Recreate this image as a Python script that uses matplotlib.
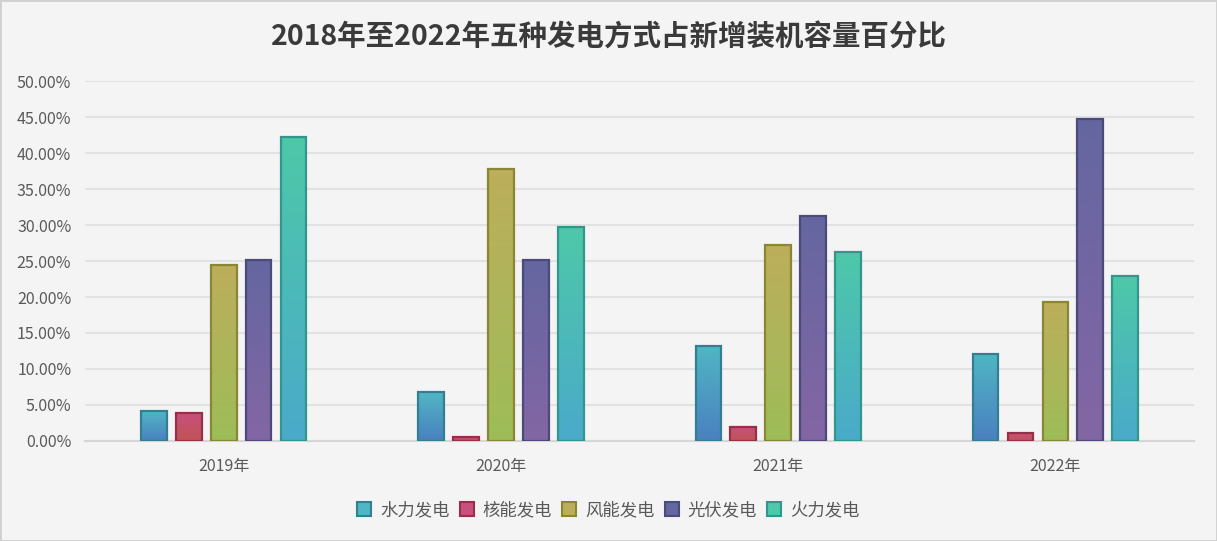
import numpy as np
import matplotlib
matplotlib.use('Agg')
import matplotlib.pyplot as plt
from matplotlib.colors import LinearSegmentedColormap
from matplotlib.patches import Patch, Rectangle
from matplotlib.ticker import FuncFormatter

plt.rcParams['font.family'] = ['Noto Sans CJK SC', 'DejaVu Sans']

years = ['2019年', '2020年', '2021年', '2022年']
series_names = ['水力发电', '核能发电', '风能发电', '光伏发电', '火力发电']
hydro = [4.15, 6.8, 13.2, 12.1]
nuclear = [3.85, 0.5, 1.9, 1.1]
wind = [24.5, 37.8, 27.2, 19.3]
solar = [25.2, 25.2, 31.3, 44.7]
thermal = [42.3, 29.7, 26.3, 22.9]
values = [hydro, nuclear, wind, solar, thermal]

# (top colour, bottom colour, edge colour)
styles = [
    ('#50b6c4', '#4a80c0', '#347e92'),
    ('#c8507e', '#c05452', '#963048'),
    ('#bdae5c', '#9dbd58', '#8a8636'),
    ('#6466a0', '#8366a4', '#4c4a78'),
    ('#4ec8a8', '#4aaaca', '#32968e'),
]

BG = '#f4f4f4'

fig = plt.figure(figsize=(12.17, 5.41), dpi=100, facecolor=BG)
ax = fig.add_axes([0.07, 0.185, 0.911, 0.665])
ax.set_facecolor(BG)

x = np.arange(len(years))
step = 0.126
width = 0.092
grad = np.linspace(0, 1, 256).reshape(-1, 1)

for i, (vals, (top, bot, edge)) in enumerate(zip(values, styles)):
    cmap = LinearSegmentedColormap.from_list('g%d' % i, [bot, top])
    xs = x + (i - 2) * step
    bars = ax.bar(xs, vals, width=width, facecolor='none', edgecolor=edge,
                  linewidth=1.6, zorder=4)
    for b in bars:
        x0, y0 = b.get_x(), b.get_y()
        w, h = b.get_width(), b.get_height()
        im = ax.imshow(grad, extent=[x0, x0 + w, y0, y0 + h], origin='lower',
                       cmap=cmap, aspect='auto', zorder=3, interpolation='bilinear')
        clip = Rectangle((x0, y0), w, h, transform=ax.transData)
        im.set_clip_path(clip)

ax.set_xlim(-0.5, len(years) - 0.5)
ax.set_ylim(0, 50)
ax.set_yticks(np.arange(0, 51, 5))
ax.yaxis.set_major_formatter(FuncFormatter(lambda v, p: '%.2f%%' % v))
ax.set_xticks(x)
ax.set_xticklabels(years)
ax.tick_params(axis='y', length=0, pad=10, labelsize=11.5, labelcolor='#595959')
ax.tick_params(axis='x', length=0, pad=12, labelsize=11.5, labelcolor='#595959')
ax.grid(axis='y', color='#e2e2e2', linewidth=1.5, zorder=0)
ax.set_axisbelow(True)
for s in ['top', 'right', 'left']:
    ax.spines[s].set_visible(False)
ax.spines['bottom'].set_color('#d6d6d6')
ax.spines['bottom'].set_linewidth(1.5)

fig.text(0.5, 0.933, '2018年至2022年五种发电方式占新增装机容量百分比',
         ha='center', va='center', fontsize=20.5, fontweight='bold', color='#3a3a3a')

handles = [Patch(facecolor=top, edgecolor=edge, linewidth=1.5) for top, bot, edge in styles]
fig.legend(handles, series_names, loc='center', bbox_to_anchor=(0.5, 0.057), ncol=5,
           frameon=False, fontsize=12.5, labelcolor='#595959', handlelength=0.8,
           handleheight=0.8, handletextpad=0.5, columnspacing=0.6)

fig.patches.append(Rectangle((0, 0), 1, 1, transform=fig.transFigure, fill=False,
                             edgecolor='#d0d0d0', linewidth=2))

fig.savefig('out.png', dpi=100, facecolor=BG)
